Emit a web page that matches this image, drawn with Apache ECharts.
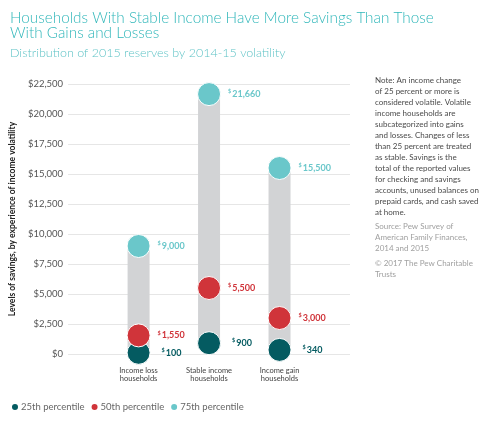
<!DOCTYPE html>
<html>
<head>
<meta charset="utf-8">
<script src="https://cdn.jsdelivr.net/npm/echarts@6/dist/echarts.min.js"></script>
<style>html,body{margin:0;padding:0;background:#fff}#c{width:502px;height:430px}</style>
</head>
<body>
<div id="c"></div>
<script>
var categories = ['Income loss\nhouseholds', 'Stable income\nhouseholds', 'Income gain\nhouseholds'];
var p25 = [100, 900, 340];
var p50 = [1550, 5500, 3000];
var p75 = [9000, 21660, 15500];
var yTicks = [0, 2500, 5000, 7500, 10000, 12500, 15000, 17500, 20000, 22500];
var seriesNames = ['25th percentile', '50th percentile', '75th percentile'];
var colors = ['#045b61', '#d0343a', '#6ac7ca'];
var noteLines = ['Note: An income change', 'of 25 percent or more is', 'considered volatile. Volatile', 'income households are', 'subcategorized into gains', 'and losses. Changes of less', 'than 25 percent are treated', 'as stable. Savings is the', 'total of the reported values', 'for checking and savings', 'accounts, unused balances on', 'prepaid cards, and cash saved', 'at home.'];
var sourceLines = ['Source: Pew Survey of', 'American Family Finances,', '2014 and 2015'];
var copyLines = ['\u00a9 2017 The Pew Charitable', 'Trusts'];

var FONT = 'Lato';
function fmt(v) { return v.toLocaleString('en-US'); }
function pts(arr) { return arr.map(function (v, i) { return [i + 1, v]; }); }

var rangeData = categories.map(function (c, i) { return [i + 1, p25[i], p75[i]]; });

function scatter(idx, arr, gap) {
  return {
    name: seriesNames[idx],
    type: 'scatter',
    data: pts(arr),
    symbolSize: 23,
    z: 3 + idx,
    itemStyle: { color: colors[idx], borderColor: '#fff', borderWidth: 1, opacity: 1 },
    label: {
      show: true,
      position: 'right',
      distance: gap,
      formatter: function (p) { return '{s|$}{v|' + fmt(p.value[1]) + '}'; },
      rich: {
        s: { fontSize: 5.5, fontFamily: FONT, fontWeight: 'bold', color: colors[idx], verticalAlign: 'top', padding: [0, 1, 5, 0] },
        v: { fontSize: 9, fontFamily: FONT, fontWeight: 'bold', color: colors[idx] }
      }
    },
    emphasis: { disabled: true }
  };
}

var graphics = [];
noteLines.forEach(function (t, i) {
  graphics.push({ type: 'text', left: 375, top: 76 + i * 11, style: { text: t, fontSize: 8, fontFamily: FONT, fill: '#4a4a4a' } });
});
sourceLines.forEach(function (t, i) {
  graphics.push({ type: 'text', left: 375, top: 222 + i * 11, style: { text: t, fontSize: 8, fontFamily: FONT, fill: '#a0a0a0' } });
});
copyLines.forEach(function (t, i) {
  graphics.push({ type: 'text', left: 375, top: 259 + i * 11, style: { text: t, fontSize: 8, fontFamily: FONT, fill: '#a0a0a0' } });
});
graphics.push({ type: 'text', left: 10, top: 11, style: { text: 'Households With Stable Income Have More Savings Than Those\nWith Gains and Losses', fontSize: 15.3, lineHeight: 15, fontFamily: FONT, fontWeight: 300, fill: '#31b7ba' } });
graphics.push({ type: 'text', left: 10, top: 46, style: { text: 'Distribution of 2015 reserves by 2014-15 volatility', fontSize: 12.5, fontFamily: FONT, fontWeight: 300, fill: '#5fc3c6' } });

var chart = echarts.init(document.getElementById('c'));
chart.setOption({
  animation: false,
  grid: { left: 67, right: 152, top: 84, bottom: 76, containLabel: false },
  graphic: graphics,
  legend: {
    left: 5, top: 397,
    itemWidth: 8, itemHeight: 8, itemGap: 5,
    icon: 'circle',
    data: seriesNames,
    textStyle: { fontSize: 9.5, fontFamily: FONT, color: '#666', padding: [0, 0, 0, -3] }
  },
  xAxis: {
    type: 'value', min: 0, max: 4, interval: 1,
    axisLine: { show: false }, axisTick: { show: false }, splitLine: { show: false },
    axisLabel: {
      margin: 13,
      fontSize: 7.5, lineHeight: 8, fontFamily: FONT, color: '#444',
      formatter: function (v) { return categories[v - 1] || ''; }
    }
  },
  yAxis: {
    type: 'value', min: yTicks[0], max: yTicks[yTicks.length - 1], interval: 2500,
    name: 'Levels of savings, by experience of income volatility',
    nameLocation: 'middle', nameGap: 49, nameRotate: 90,
    nameTextStyle: { fontSize: 8.5, fontFamily: FONT, fontWeight: 'bold', color: '#222' },
    axisLine: { show: false }, axisTick: { show: false },
    splitLine: { lineStyle: { color: '#e6e6e6', width: 1 } },
    axisLabel: { margin: 5, fontSize: 9.5, fontFamily: FONT, color: '#555', formatter: function (v) { return '$' + fmt(v); } }
  },
  series: [
    {
      type: 'custom',
      data: rangeData,
      z: 1,
      silent: true,
      renderItem: function (params, api) {
        var x = api.value(0);
        var top = api.coord([x, api.value(2)]);
        var bot = api.coord([x, api.value(1)]);
        var w = 22;
        return { type: 'rect', shape: { x: top[0] - w / 2, y: top[1], width: w, height: bot[1] - top[1] }, style: { fill: '#d2d3d5' } };
      }
    },
    scatter(0, p25, 11),
    scatter(1, p50, 7),
    scatter(2, p75, 7)
  ]
});
</script>
</body>
</html>
